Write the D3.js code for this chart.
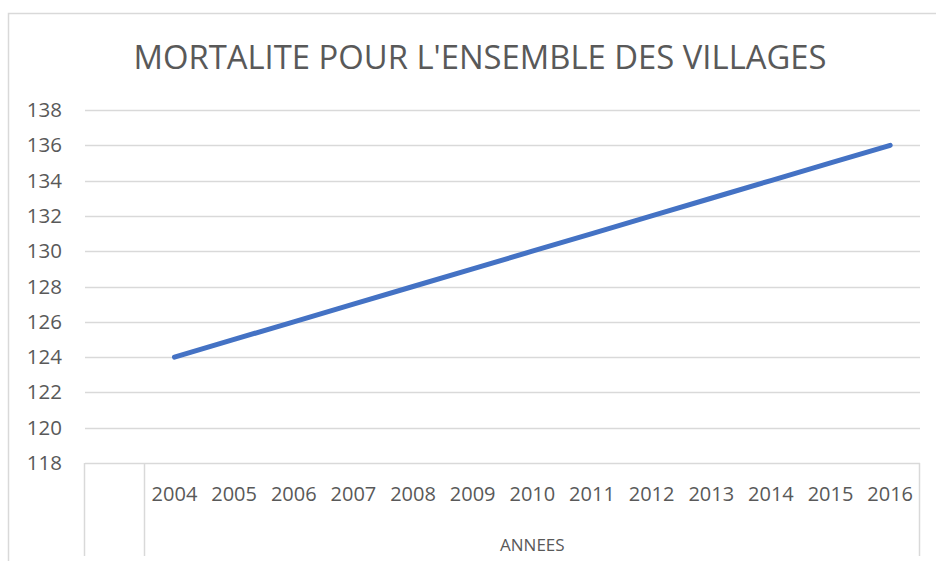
<!DOCTYPE html>
<html>
<head>
<meta charset="utf-8">
<script src="https://cdn.jsdelivr.net/npm/d3@7"></script>
<style>
  html, body { margin: 0; padding: 0; background: #fff; }
  svg { display: block; }
</style>
</head>
<body>
<svg id="chart" width="936" height="561"></svg>
<script>
const title = "MORTALITE POUR L'ENSEMBLE DES VILLAGES";
const xTitle = "ANNEES";
const categories = ["", "2004", "2005", "2006", "2007", "2008", "2009", "2010", "2011", "2012", "2013", "2014", "2015", "2016"];
const years = ["2004", "2005", "2006", "2007", "2008", "2009", "2010", "2011", "2012", "2013", "2014", "2015", "2016"];
const mortality = [124, 125, 126, 127, 128, 129, 130, 131, 132, 133, 134, 135, 136];
const yTicks = [118, 120, 122, 124, 126, 128, 130, 132, 134, 136, 138];

const svg = d3.select("#chart");
const W = 936, H = 561;
const plot = { left: 85, right: 920, top: 110, bottom: 463 };
const textColor = "#595959";
const gridColor = "#d9d9d9";
const font = "'Open Sans', 'Liberation Sans', sans-serif";

// outer chart frame
svg.append("rect")
  .attr("x", 8.5).attr("y", 13.5)
  .attr("width", W + 10).attr("height", H + 10)
  .attr("fill", "none").attr("stroke", gridColor).attr("stroke-width", 1.5);

// title
svg.append("text")
  .attr("x", 480).attr("y", 69)
  .attr("text-anchor", "middle")
  .attr("font-family", font).attr("font-size", 33)
  .attr("fill", textColor)
  .attr("textLength", 693).attr("lengthAdjust", "spacingAndGlyphs")
  .text(title);

const x = d3.scaleBand().domain(categories).range([plot.left, plot.right]).padding(0);
const y = d3.scaleLinear().domain([118, 138]).range([plot.bottom, plot.top]);

// gridlines
svg.append("g").selectAll("line")
  .data(yTicks.filter(d => d !== 118))
  .join("line")
  .attr("x1", plot.left).attr("x2", plot.right)
  .attr("y1", d => Math.round(y(d)) + 0.5).attr("y2", d => Math.round(y(d)) + 0.5)
  .attr("stroke", gridColor).attr("stroke-width", 1.5);

// y axis labels
const yAxis = d3.axisLeft(y).tickValues(yTicks).tickSize(0).tickPadding(0);
const gy = svg.append("g").attr("transform", `translate(62,0)`).call(yAxis);
gy.select(".domain").remove();
gy.selectAll("text")
  .attr("font-family", font).attr("font-size", 20.5)
  .attr("fill", textColor);

// x axis line (horizontal) and multi-level dividers
svg.append("line")
  .attr("x1", plot.left).attr("x2", plot.right)
  .attr("y1", plot.bottom + 0.5).attr("y2", plot.bottom + 0.5)
  .attr("stroke", gridColor).attr("stroke-width", 1.5);

const dividers = [x(""), x("2004"), x("2016") + x.bandwidth()];
svg.append("g").selectAll("line")
  .data(dividers)
  .join("line")
  .attr("x1", d => Math.round(d) - 0.5).attr("x2", d => Math.round(d) - 0.5)
  .attr("y1", plot.bottom).attr("y2", 556)
  .attr("stroke", gridColor).attr("stroke-width", 1.5);

// x labels
const xAxis = d3.axisBottom(x).tickSize(0).tickPadding(0);
const gx = svg.append("g").attr("transform", `translate(0,${plot.bottom + 24})`).call(xAxis);
gx.select(".domain").remove();
gx.selectAll("text")
  .attr("font-family", font).attr("font-size", 20)
  .attr("fill", textColor);

// outer category label
svg.append("text")
  .attr("x", (x("2004") + x("2016") + x.bandwidth()) / 2)
  .attr("y", 551)
  .attr("text-anchor", "middle")
  .attr("font-family", font).attr("font-size", 17)
  .attr("fill", textColor)
  .text(xTitle);

// line
const line = d3.line()
  .x((d, i) => x(years[i]) + x.bandwidth() / 2)
  .y(d => y(d));
svg.append("path")
  .datum(mortality)
  .attr("d", line)
  .attr("fill", "none")
  .attr("stroke", "#4472c4")
  .attr("stroke-width", 5)
  .attr("stroke-linecap", "round")
  .attr("stroke-linejoin", "round");
</script>
</body>
</html>
